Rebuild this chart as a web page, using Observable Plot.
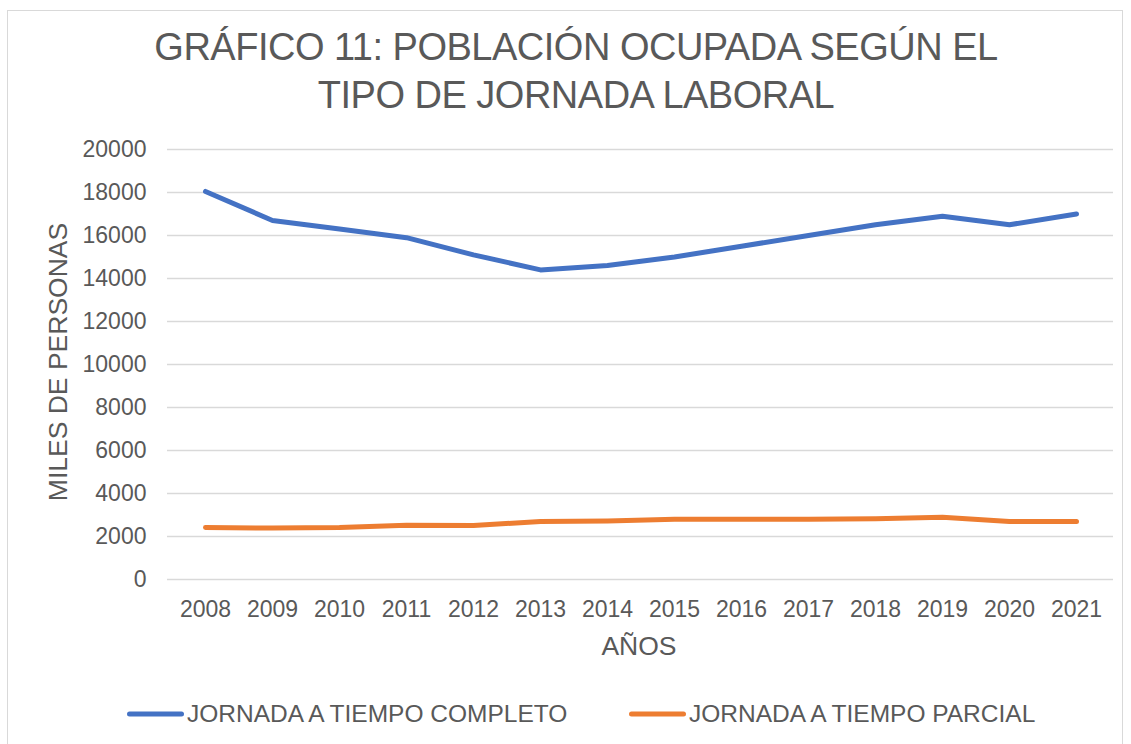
<!DOCTYPE html>
<html>
<head>
<meta charset="utf-8">
<script src="https://cdn.jsdelivr.net/npm/d3@7"></script>
<script src="https://cdn.jsdelivr.net/npm/@observablehq/plot@0.6"></script>
<style>
  html, body { margin: 0; padding: 0; background: #fff; }
  #wrap { position: relative; width: 1131px; height: 744px; overflow: hidden; font-family: "Liberation Sans", Arial, sans-serif; }
  #wrap > * { position: absolute; left: 0; top: 0; }
</style>
</head>
<body>
<div id="wrap"></div>
<script>
const title1 = "GRÁFICO 11: POBLACIÓN OCUPADA SEGÚN EL";
const title2 = "TIPO DE JORNADA LABORAL";
const yLabel = "MILES DE PERSONAS";
const xLabel = "AÑOS";
const series = ["JORNADA A TIEMPO COMPLETO", "JORNADA A TIEMPO PARCIAL"];
const colors = ["#4472C4", "#ED7D31"];
const years = [2008, 2009, 2010, 2011, 2012, 2013, 2014, 2015, 2016, 2017, 2018, 2019, 2020, 2021];
const completo = [18050, 16700, 16300, 15900, 15100, 14400, 14600, 15000, 15500, 16000, 16500, 16900, 16500, 17000];
const parcial = [2420, 2390, 2420, 2520, 2510, 2700, 2720, 2800, 2800, 2800, 2820, 2900, 2700, 2700];
const yTicks = [0, 2000, 4000, 6000, 8000, 10000, 12000, 14000, 16000, 18000, 20000];

const data = [
  ...years.map((y, i) => ({year: y, value: completo[i], serie: series[0]})),
  ...years.map((y, i) => ({year: y, value: parcial[i], serie: series[1]}))
];

const wrap = document.getElementById("wrap");
const ns = "http://www.w3.org/2000/svg";

// background frame + texts overlay
const deco = document.createElementNS(ns, "svg");
deco.setAttribute("width", 1131);
deco.setAttribute("height", 744);
deco.style.fontFamily = '"Liberation Sans", Arial, sans-serif';
function add(tag, attrs, text) {
  const el = document.createElementNS(ns, tag);
  for (const k in attrs) el.setAttribute(k, attrs[k]);
  if (text != null) el.textContent = text;
  deco.appendChild(el);
  return el;
}
add("rect", {x: 7.5, y: 10.5, width: 1115, height: 800, fill: "#fff", stroke: "#d9d9d9", "stroke-width": 1});
add("text", {x: 576, y: 60, "text-anchor": "middle", "font-size": 38, fill: "#595959", "letter-spacing": "-0.5"}, title1);
add("text", {x: 576, y: 108, "text-anchor": "middle", "font-size": 38, fill: "#595959", "letter-spacing": "-0.5"}, title2);
add("text", {transform: "translate(67,362) rotate(-90)", "text-anchor": "middle", "font-size": 26.5, fill: "#595959"}, yLabel);
add("text", {x: 639, y: 655, "text-anchor": "middle", "font-size": 26.5, fill: "#595959"}, xLabel);
const legendX = [127, 629];
series.forEach((s, i) => {
  add("line", {x1: legendX[i] + 2.5, x2: legendX[i] + 54.5, y1: 714, y2: 714, stroke: colors[i], "stroke-width": 5, "stroke-linecap": "round"});
  add("text", {x: legendX[i] + 60, y: 722, "font-size": 24.5, fill: "#595959"}, s);
});
wrap.appendChild(deco);

const chart = Plot.plot({
  width: 1131,
  height: 680,
  marginLeft: 167,
  marginRight: 18,
  marginTop: 149,
  marginBottom: 101,
  style: {fontFamily: '"Liberation Sans", Arial, sans-serif', fontSize: "23px", color: "#595959", background: "transparent"},
  x: {type: "point", domain: years, padding: 0.5, label: null, tickSize: 0, tickPadding: 21, tickFormat: d => String(d)},
  y: {domain: [0, 20000], ticks: yTicks, label: null, tickSize: 0, tickPadding: 21, tickFormat: d => String(d)},
  color: {domain: series, range: colors},
  marks: [
    Plot.ruleY(yTicks, {stroke: "#d9d9d9", strokeWidth: 1.5}),
    Plot.line(data, {x: "year", y: "value", z: "serie", stroke: "serie", strokeWidth: 5, strokeLinecap: "round", strokeLinejoin: "round"})
  ]
});
wrap.appendChild(chart);
</script>
</body>
</html>
